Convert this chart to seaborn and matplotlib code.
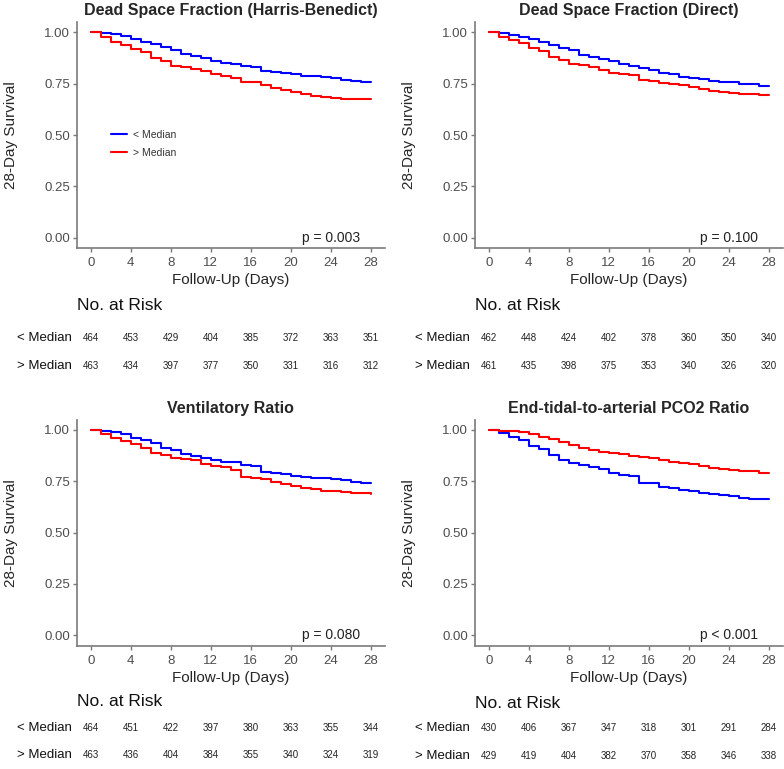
import numpy as np
import pandas as pd
import matplotlib
matplotlib.use("Agg")
import matplotlib.pyplot as plt
import matplotlib.transforms as mtransforms
import seaborn as sns

sns.set_style("ticks")
plt.rcParams["font.family"] = ["Liberation Sans", "DejaVu Sans"]

days = list(range(0, 29))
groups = ["< Median", "> Median"]
risk_days = [0, 4, 8, 12, 16, 20, 24, 28]

titles = [
    "Dead Space Fraction (Harris-Benedict)",
    "Dead Space Fraction (Direct)",
    "Ventilatory Ratio",
    "End-tidal-to-arterial PCO2 Ratio",
]
pvalues = ["p = 0.003", "p = 0.100", "p = 0.080", "p < 0.001"]

# Daily Kaplan-Meier survival estimates (value holding from day d to d+1)
hb_below = [1.000, 0.998, 0.992, 0.980, 0.969, 0.955, 0.943, 0.928, 0.916, 0.893,
            0.885, 0.873, 0.860, 0.852, 0.844, 0.834, 0.829, 0.813, 0.808, 0.803,
            0.797, 0.789, 0.785, 0.783, 0.778, 0.770, 0.765, 0.758, 0.757]
hb_above = [1.000, 0.976, 0.955, 0.938, 0.920, 0.906, 0.877, 0.860, 0.836, 0.832,
            0.821, 0.810, 0.797, 0.786, 0.779, 0.760, 0.757, 0.742, 0.727, 0.719,
            0.709, 0.700, 0.692, 0.683, 0.680, 0.677, 0.676, 0.675, 0.675]
dir_below = [1.000, 0.995, 0.988, 0.975, 0.965, 0.955, 0.940, 0.925, 0.912, 0.890,
             0.880, 0.872, 0.860, 0.845, 0.838, 0.825, 0.815, 0.802, 0.795, 0.783,
             0.778, 0.772, 0.765, 0.760, 0.756, 0.750, 0.746, 0.740, 0.738]
dir_above = [1.000, 0.976, 0.963, 0.948, 0.922, 0.909, 0.881, 0.865, 0.844, 0.840,
             0.833, 0.817, 0.804, 0.798, 0.792, 0.768, 0.765, 0.755, 0.749, 0.742,
             0.732, 0.722, 0.716, 0.711, 0.706, 0.700, 0.698, 0.695, 0.694]
vr_below = [1.000, 0.997, 0.990, 0.980, 0.962, 0.951, 0.935, 0.914, 0.903, 0.883,
            0.873, 0.865, 0.855, 0.845, 0.842, 0.830, 0.826, 0.797, 0.790, 0.785,
            0.778, 0.773, 0.768, 0.764, 0.760, 0.755, 0.747, 0.742, 0.741]
vr_above = [1.000, 0.979, 0.963, 0.946, 0.930, 0.911, 0.890, 0.876, 0.862, 0.857,
            0.853, 0.835, 0.825, 0.818, 0.805, 0.770, 0.767, 0.762, 0.748, 0.738,
            0.727, 0.719, 0.711, 0.705, 0.701, 0.698, 0.695, 0.692, 0.690]
et_below = [1.000, 0.984, 0.968, 0.950, 0.924, 0.907, 0.878, 0.856, 0.838, 0.830,
            0.821, 0.808, 0.792, 0.782, 0.777, 0.743, 0.740, 0.724, 0.716, 0.708,
            0.702, 0.695, 0.689, 0.684, 0.680, 0.667, 0.666, 0.665, 0.663]
et_above = [1.000, 0.997, 0.994, 0.988, 0.979, 0.968, 0.955, 0.943, 0.927, 0.911,
            0.903, 0.895, 0.889, 0.881, 0.873, 0.868, 0.862, 0.854, 0.846, 0.841,
            0.834, 0.825, 0.817, 0.812, 0.805, 0.802, 0.800, 0.792, 0.790]

# Numbers at risk at days 0,4,...,28
hb_risk_below = [464, 453, 429, 404, 385, 372, 363, 351]
hb_risk_above = [463, 434, 397, 377, 350, 331, 316, 312]
dir_risk_below = [462, 448, 424, 402, 378, 360, 350, 340]
dir_risk_above = [461, 435, 398, 375, 353, 340, 326, 320]
vr_risk_below = [464, 451, 422, 397, 380, 363, 355, 344]
vr_risk_above = [463, 436, 404, 384, 355, 340, 324, 319]
et_risk_below = [430, 406, 367, 347, 318, 301, 291, 284]
et_risk_above = [429, 419, 404, 382, 370, 358, 346, 338]

curves = [(hb_below, hb_above), (dir_below, dir_above),
          (vr_below, vr_above), (et_below, et_above)]
risks = [(hb_risk_below, hb_risk_above), (dir_risk_below, dir_risk_above),
         (vr_risk_below, vr_risk_above), (et_risk_below, et_risk_above)]

palette = {"< Median": "#0000FF", "> Median": "#FF0000"}

W, H = 784, 769
fig = plt.figure(figsize=(W / 100, H / 100), dpi=100)

# axes boxes in pixels: (left, top, right, bottom)
boxes = [(76.7, 22, 385, 248), (474.7, 22, 783, 248),
         (76.7, 419.7, 385, 645.6), (474.7, 419.7, 783, 645.6)]
# text rows (pixel y): no-at-risk header, row1, row2
rows_y = [(306, 338, 366), (305, 338, 366), (702, 728, 755), (703, 728, 756)]

gray = "#7a7a7a"
for i in range(4):
    l, t, r, b = boxes[i]
    ax = fig.add_axes([l / W, 1 - b / H, (r - l) / W, (b - t) / H])
    below, above = curves[i]
    df = pd.DataFrame({
        "day": days * 2,
        "surv": list(below) + list(above),
        "group": ["< Median"] * len(days) + ["> Median"] * len(days),
    })
    sns.lineplot(data=df, x="day", y="surv", hue="group", palette=palette,
                 hue_order=groups, drawstyle="steps-post", estimator=None,
                 linewidth=1.5, ax=ax, legend=(i == 0))
    ax.set_xlim(-1.4, 29.4)
    ax.set_ylim(-0.05, 1.05)
    ax.set_xticks(risk_days)
    ax.set_yticks([0, 0.25, 0.5, 0.75, 1.0])
    ax.set_yticklabels(["0.00", "0.25", "0.50", "0.75", "1.00"])
    ax.tick_params(axis="both", labelsize=9.5, labelcolor="#4d4d4d", colors=gray,
                   length=3, width=1)
    ax.tick_params(axis="y", pad=2)
    for lab in ax.get_xticklabels() + ax.get_yticklabels():
        lab.set_color("#4d4d4d")
    for s in ["top", "right"]:
        ax.spines[s].set_visible(False)
    for s in ["left", "bottom"]:
        ax.spines[s].set_color(gray)
        ax.spines[s].set_linewidth(1.2)
    ax.set_title(titles[i], fontsize=11.5, fontweight="bold", pad=5)
    ax.set_xlabel("Follow-Up (Days)", fontsize=11, labelpad=3)
    ax.set_ylabel("28-Day Survival", fontsize=11)
    ax.yaxis.set_label_coords(-0.19, 0.5)
    ax.text(24, 0.0, pvalues[i], ha="center", va="center", fontsize=10,
            color="#222222")
    if i == 0:
        leg = ax.legend(loc="center left", bbox_to_anchor=(0.095, 0.46),
                        frameon=False, fontsize=7.5, handlelength=1.5,
                        handletextpad=0.6, borderpad=0, labelspacing=0.75,
                        title=None)
        for txt in leg.get_texts():
            txt.set_color("#333333")

    # risk table
    hy, r1, r2 = rows_y[i]
    trans = mtransforms.blended_transform_factory(ax.transData, fig.transFigure)
    fig.text(l / W, 1 - hy / H, "No. at Risk", ha="left", va="center",
             fontsize=12.5, color="#111111")
    rb, ra = risks[i]
    for yy, gname, vals in [(r1, "< Median", rb), (r2, "> Median", ra)]:
        fig.text((l - 5) / W, 1 - yy / H, gname, ha="right", va="center",
                 fontsize=9.5, color="#111111")
        for d, v in zip(risk_days, vals):
            ax.text(d, 1 - yy / H, str(v), transform=trans, ha="center",
                    va="center", fontsize=7, color="#222222")

fig.savefig("out.png", dpi=100)
